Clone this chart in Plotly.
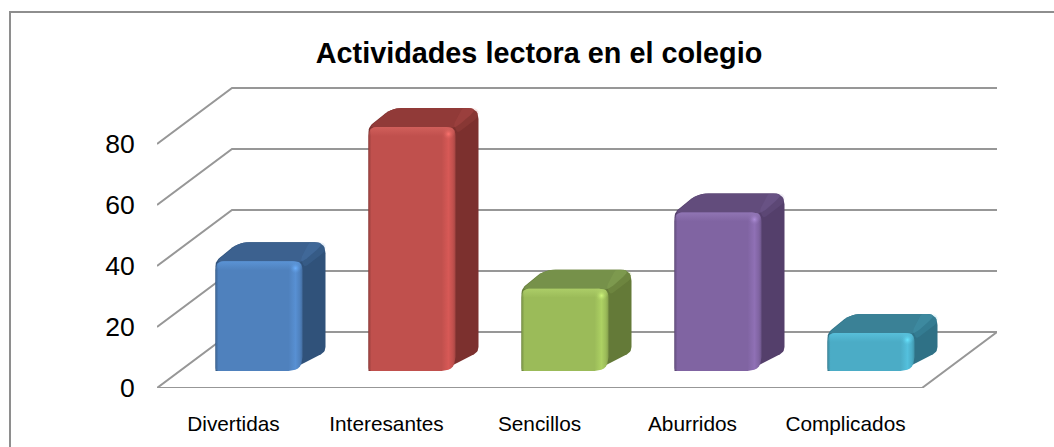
import plotly.graph_objects as go

categories = ["Divertidas", "Interesantes", "Sencillos", "Aburridos", "Complicados"]
values = [36, 80, 27, 52, 12.5]
y_ticks = [0, 20, 40, 60, 80]
title_text = "Actividades lectora en el colegio"

front_colors = ["#4F81BD", "#C0504D", "#9BBB59", "#8064A2", "#4BACC6"]
top_colors = ["#3C618F", "#913A38", "#76914A", "#624C7C", "#3A8196"]
side_colors = ["#30527A", "#7C302E", "#647A38", "#543F6B", "#2F7186"]
light_colors = ["#5B94D6", "#D2605C", "#ADCE68", "#9176B5", "#58C0DB"]

W, H = 1054, 447
PX_X, PX_Y = 153.0, 3.05      # screen pixels per category / per value unit
L, R, T, B = 157, 997, 87, 388
DEPTH_X, DEPTH_Y = 75.0, 56.0  # screen projection of the full depth
BAR_W = 87.0
BAR_SHIFT = 25.5
BAR_LIFT = 17.0
BAR_DX, BAR_DY = 23.0, 19.0

x0 = -0.5
x1 = x0 + (R - L) / PX_X
y1 = (B - T) / PX_Y


def to_data(pts):
    xs = [p[0] / PX_X for p in pts]
    ys = [p[1] / PX_Y for p in pts]
    return xs, ys


def rounded(verts, radii, n=7):
    """Round polygon corners; verts are in screen-scale units (y up)."""
    out = []
    k = len(verts)
    for i, v in enumerate(verts):
        a, b = verts[i - 1], verts[(i + 1) % k]
        r = radii[i]
        if r <= 0:
            out.append(v)
            continue
        def toward(p, q, d):
            dx, dy = q[0] - p[0], q[1] - p[1]
            ln = (dx * dx + dy * dy) ** 0.5
            d = min(d, ln / 2)
            return (p[0] + dx / ln * d, p[1] + dy / ln * d)
        s, e = toward(v, a, r), toward(v, b, r)
        for j in range(n + 1):
            t = j / n
            out.append(((1 - t) ** 2 * s[0] + 2 * t * (1 - t) * v[0] + t * t * e[0],
                        (1 - t) ** 2 * s[1] + 2 * t * (1 - t) * v[1] + t * t * e[1]))
    out.append(out[0])
    return out


def scale(hexc, f):
    r, g, b = int(hexc[1:3], 16), int(hexc[3:5], 16), int(hexc[5:7], 16)
    return "rgb(%d,%d,%d)" % (min(255, r * f), min(255, g * f), min(255, b * f))


def rgba(hexc, a):
    r, g, b = int(hexc[1:3], 16), int(hexc[3:5], 16), int(hexc[5:7], 16)
    return "rgba(%d,%d,%d,%s)" % (r, g, b, a)


fig = go.Figure()

# walls and floor grid
gx, gy = [], []
dcx, dcy = DEPTH_X / PX_X, DEPTH_Y / PX_Y
xe = x0 + len(categories)
for v in y_ticks:
    gx += [x0, x0 + dcx, xe + dcx, None]
    gy += [v, v + dcy, v + dcy, None]
gx += [xe + dcx, xe, x0, None]
gy += [dcy, 0, 0, None]
fig.add_trace(go.Scatter(x=gx, y=gy, mode="lines", line=dict(color="#979797", width=2),
                         hoverinfo="skip", showlegend=False, cliponaxis=False))


def fill(pts, color=None, grad=None):
    xs, ys = to_data(pts)
    kw = dict(fillcolor=color) if color else dict(fillgradient=grad)
    fig.add_trace(go.Scatter(x=xs, y=ys, mode="lines", fill="toself", line=dict(width=0),
                             hoverinfo="skip", showlegend=False, **kw))


for i, v in enumerate(values):
    cx = (i * PX_X) + BAR_SHIFT
    lx, rx = cx - BAR_W / 2, cx + BAR_W / 2
    by = BAR_LIFT
    ty = by + v * PX_Y
    dx, dy = BAR_DX, BAR_DY
    f, t, s, l = front_colors[i], top_colors[i], side_colors[i], light_colors[i]

    # side silhouette
    fill(rounded([(rx - 14, by), (rx + dx, by + dy), (rx + dx, ty + dy), (lx + dx, ty + dy), (lx, ty), (lx, by)],
                 [6, 5, 11, 11, 5, 0]), color=s)
    # top face
    fill(rounded([(lx, ty - 1), (lx + dx, ty + dy), (rx + dx, ty + dy), (rx, ty - 1)],
                 [6, 11, 11, 6]), color=t)
    # soft lit corner on the top/side edge
    fill(rounded([(rx + 2, ty - 6), (rx + dx, ty + dy - 9), (rx + dx, ty + dy), (rx + dx - 16, ty + dy), (rx - 2, ty + 2)],
                 [3, 4, 11, 3, 3]), color=rgba(l, 0.14))
    # front face with a horizontal shaded gradient
    fill(rounded([(lx, by), (lx, ty), (rx, ty), (rx, by)], [3, 9, 9, 14]),
         grad=dict(type="horizontal", colorscale=[
             [0.0, scale(f, 0.78)], [0.035, f], [0.84, f], [0.92, scale(f, 1.12)],
             [0.97, f], [1.0, scale(f, 0.85)]]))
    # bevel along the top of the front face
    fill(rounded([(lx + 1, ty - 9), (lx + 1, ty), (rx - 1, ty), (rx - 1, ty - 9)], [0, 9, 9, 0]),
         grad=dict(type="vertical", colorscale=[[0.0, rgba(l, 0.0)], [1.0, rgba(l, 0.95)]]))
    # highlight at the bevel corner
    hx, hy = to_data([(rx - 7, ty - 7)])
    fig.add_trace(go.Scatter(x=hx, y=hy, mode="markers", hoverinfo="skip", showlegend=False,
                             marker=dict(size=11, color=rgba(l, 0), line=dict(width=0),
                                         gradient=dict(type="radial", color=scale(l, 1.2)))))

fig.update_layout(
    width=W, height=H, autosize=False,
    margin=dict(l=0, r=0, t=0, b=0),
    paper_bgcolor="white", plot_bgcolor="white",
    showlegend=False,
    font=dict(family="Liberation Sans, Arial, sans-serif", color="black"),
    title=dict(text="<b>%s</b>" % title_text, x=539 / W, xanchor="center",
               y=1 - 53 / H, yanchor="middle", font=dict(size=28.8, color="black")),
    xaxis=dict(domain=[L / W, R / W], range=[x0, x1], tickmode="array",
               tickvals=list(range(len(categories))), ticktext=categories,
               showgrid=False, zeroline=False, showline=False, automargin=False,
               ticks="outside", ticklen=17, tickcolor="rgba(0,0,0,0)",
               tickfont=dict(size=20.8), fixedrange=True),
    yaxis=dict(domain=[1 - B / H, 1 - T / H], range=[0, y1], tickmode="array",
               tickvals=y_ticks, showgrid=False, zeroline=False, showline=False, automargin=False,
               ticks="outside", ticklen=16, tickcolor="rgba(0,0,0,0)",
               tickfont=dict(size=26.5), fixedrange=True),
    shapes=[dict(type="path", xref="paper", yref="paper",
                 path="M %f,%f L %f,%f L %f,%f" % (10 / W, 0, 10 / W, 1 - 12 / H, 1, 1 - 12 / H),
                 line=dict(color="#8E8E8E", width=2))],
)

fig.write_html("out.html", config=dict(displayModeBar=False),
               post_script="document.body.style.margin='0';")
